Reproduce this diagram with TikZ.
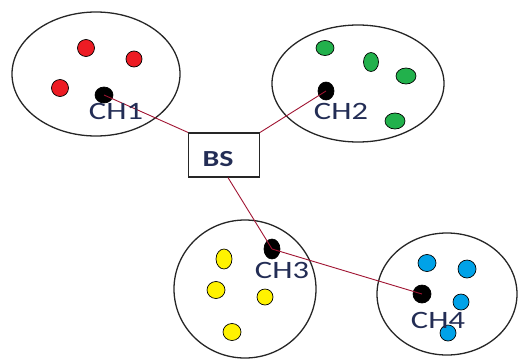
\documentclass[tikz,border=0pt]{standalone}
\usepackage{fontspec}
\setmainfont{Carlito}
\usetikzlibrary{shapes.geometric}
\definecolor{linkred}{RGB}{160,20,50}
\definecolor{labelblue}{RGB}{35,45,85}
\definecolor{dotred}{RGB}{237,28,36}
\definecolor{dotgreen}{RGB}{34,177,76}
\definecolor{dotyellow}{RGB}{255,242,0}
\definecolor{dotblue}{RGB}{0,162,232}
\tikzset{
  cluster/.style={draw=black!85, line width=1.3pt, ellipse, inner sep=0pt},
  dot/.style={ellipse, draw=black, line width=0.7pt, inner sep=0pt, minimum width=17pt, minimum height=17pt},
  head/.style={dot, fill=black},
  chlabel/.style={text=labelblue, inner sep=0pt, font=\fontsize{25}{25}\selectfont},
  bsbox/.style={draw=black!85, line width=1.2pt, minimum width=71pt, minimum height=44pt, inner sep=0pt},
  link/.style={draw=linkred, line width=0.9pt}
}
\begin{document}
\begin{tikzpicture}[x=1pt,y=-1pt]
\useasboundingbox (0,0) rectangle (518,362);
% clusters
\node[cluster, minimum width=168pt, minimum height=124pt] (c1) at (96,74) {};
\node[cluster, minimum width=172pt, minimum height=117pt] (c2) at (358,83.5) {};
\node[cluster, minimum width=142pt, minimum height=138pt] (c3) at (245,289) {};
\node[cluster, minimum width=140pt, minimum height=122pt] (c4) at (447,294) {};
% base station
\node[bsbox] (bs) at (224,155) {};
\node[inner sep=0pt, text=labelblue, font=\fontsize{23}{23}\selectfont\bfseries] (bslabel) at (218,159) {\scalebox{1.3}[1]{BS}};
% cluster heads
\node[head, minimum width=18pt, minimum height=16pt] (ch1) at (104,95) {};
\node[head, minimum width=16pt, minimum height=18pt] (ch2) at (326,91) {};
\node[head, minimum width=16pt, minimum height=20pt] (ch3) at (272,249) {};
\node[head, minimum width=18pt, minimum height=18pt] (ch4) at (422,294) {};
% links
\draw[link] (ch1.center) -- (bs.north west);
\draw[link] (ch2.center) -- (bs.north east);
\draw[link] ([xshift=4pt]bs.south) -- (ch3.center);
\draw[link] (ch3.center) -- (ch4.center);
% red members
\node[dot, fill=dotred] (r1) at (86,48) {};
\node[dot, fill=dotred, minimum width=16pt, minimum height=16pt] (r2) at (134,59) {};
\node[dot, fill=dotred] (r3) at (60,88) {};
% green members
\node[dot, fill=dotgreen, minimum width=18pt, minimum height=15pt] (g1) at (325,48) {};
\node[dot, fill=dotgreen, minimum width=15pt, minimum height=19pt] (g2) at (371,62) {};
\node[dot, fill=dotgreen, minimum width=20pt, minimum height=16pt] (g3) at (406,76) {};
\node[dot, fill=dotgreen, minimum width=20pt, minimum height=16pt] (g4) at (395,121) {};
% yellow members
\node[dot, fill=dotyellow, minimum width=16pt, minimum height=20pt] (y1) at (224,259) {};
\node[dot, fill=dotyellow, minimum width=18pt, minimum height=17pt] (y2) at (216,290) {};
\node[dot, fill=dotyellow, minimum width=16pt, minimum height=16pt] (y3) at (265,297) {};
\node[dot, fill=dotyellow, minimum width=18pt, minimum height=17pt] (y4) at (232,332) {};
% blue members
\node[dot, fill=dotblue, minimum width=18pt, minimum height=17pt] (b1) at (427,263) {};
\node[dot, fill=dotblue, minimum width=18pt, minimum height=18pt] (b2) at (467,269) {};
\node[dot, fill=dotblue, minimum width=16pt, minimum height=16pt] (b3) at (461,302) {};
\node[dot, fill=dotblue, minimum width=16pt, minimum height=16pt] (b4) at (448,333) {};
% labels
\node[chlabel] (l1) at (116,111.5) {\scalebox{1.3}[1]{CH1}};
\node[chlabel] (l2) at (341,111.5) {\scalebox{1.3}[1]{CH2}};
\node[chlabel] (l3) at (282,270) {\scalebox{1.3}[1]{CH3}};
\node[chlabel] (l4) at (438,320) {\scalebox{1.3}[1]{CH4}};
\end{tikzpicture}
\end{document}
